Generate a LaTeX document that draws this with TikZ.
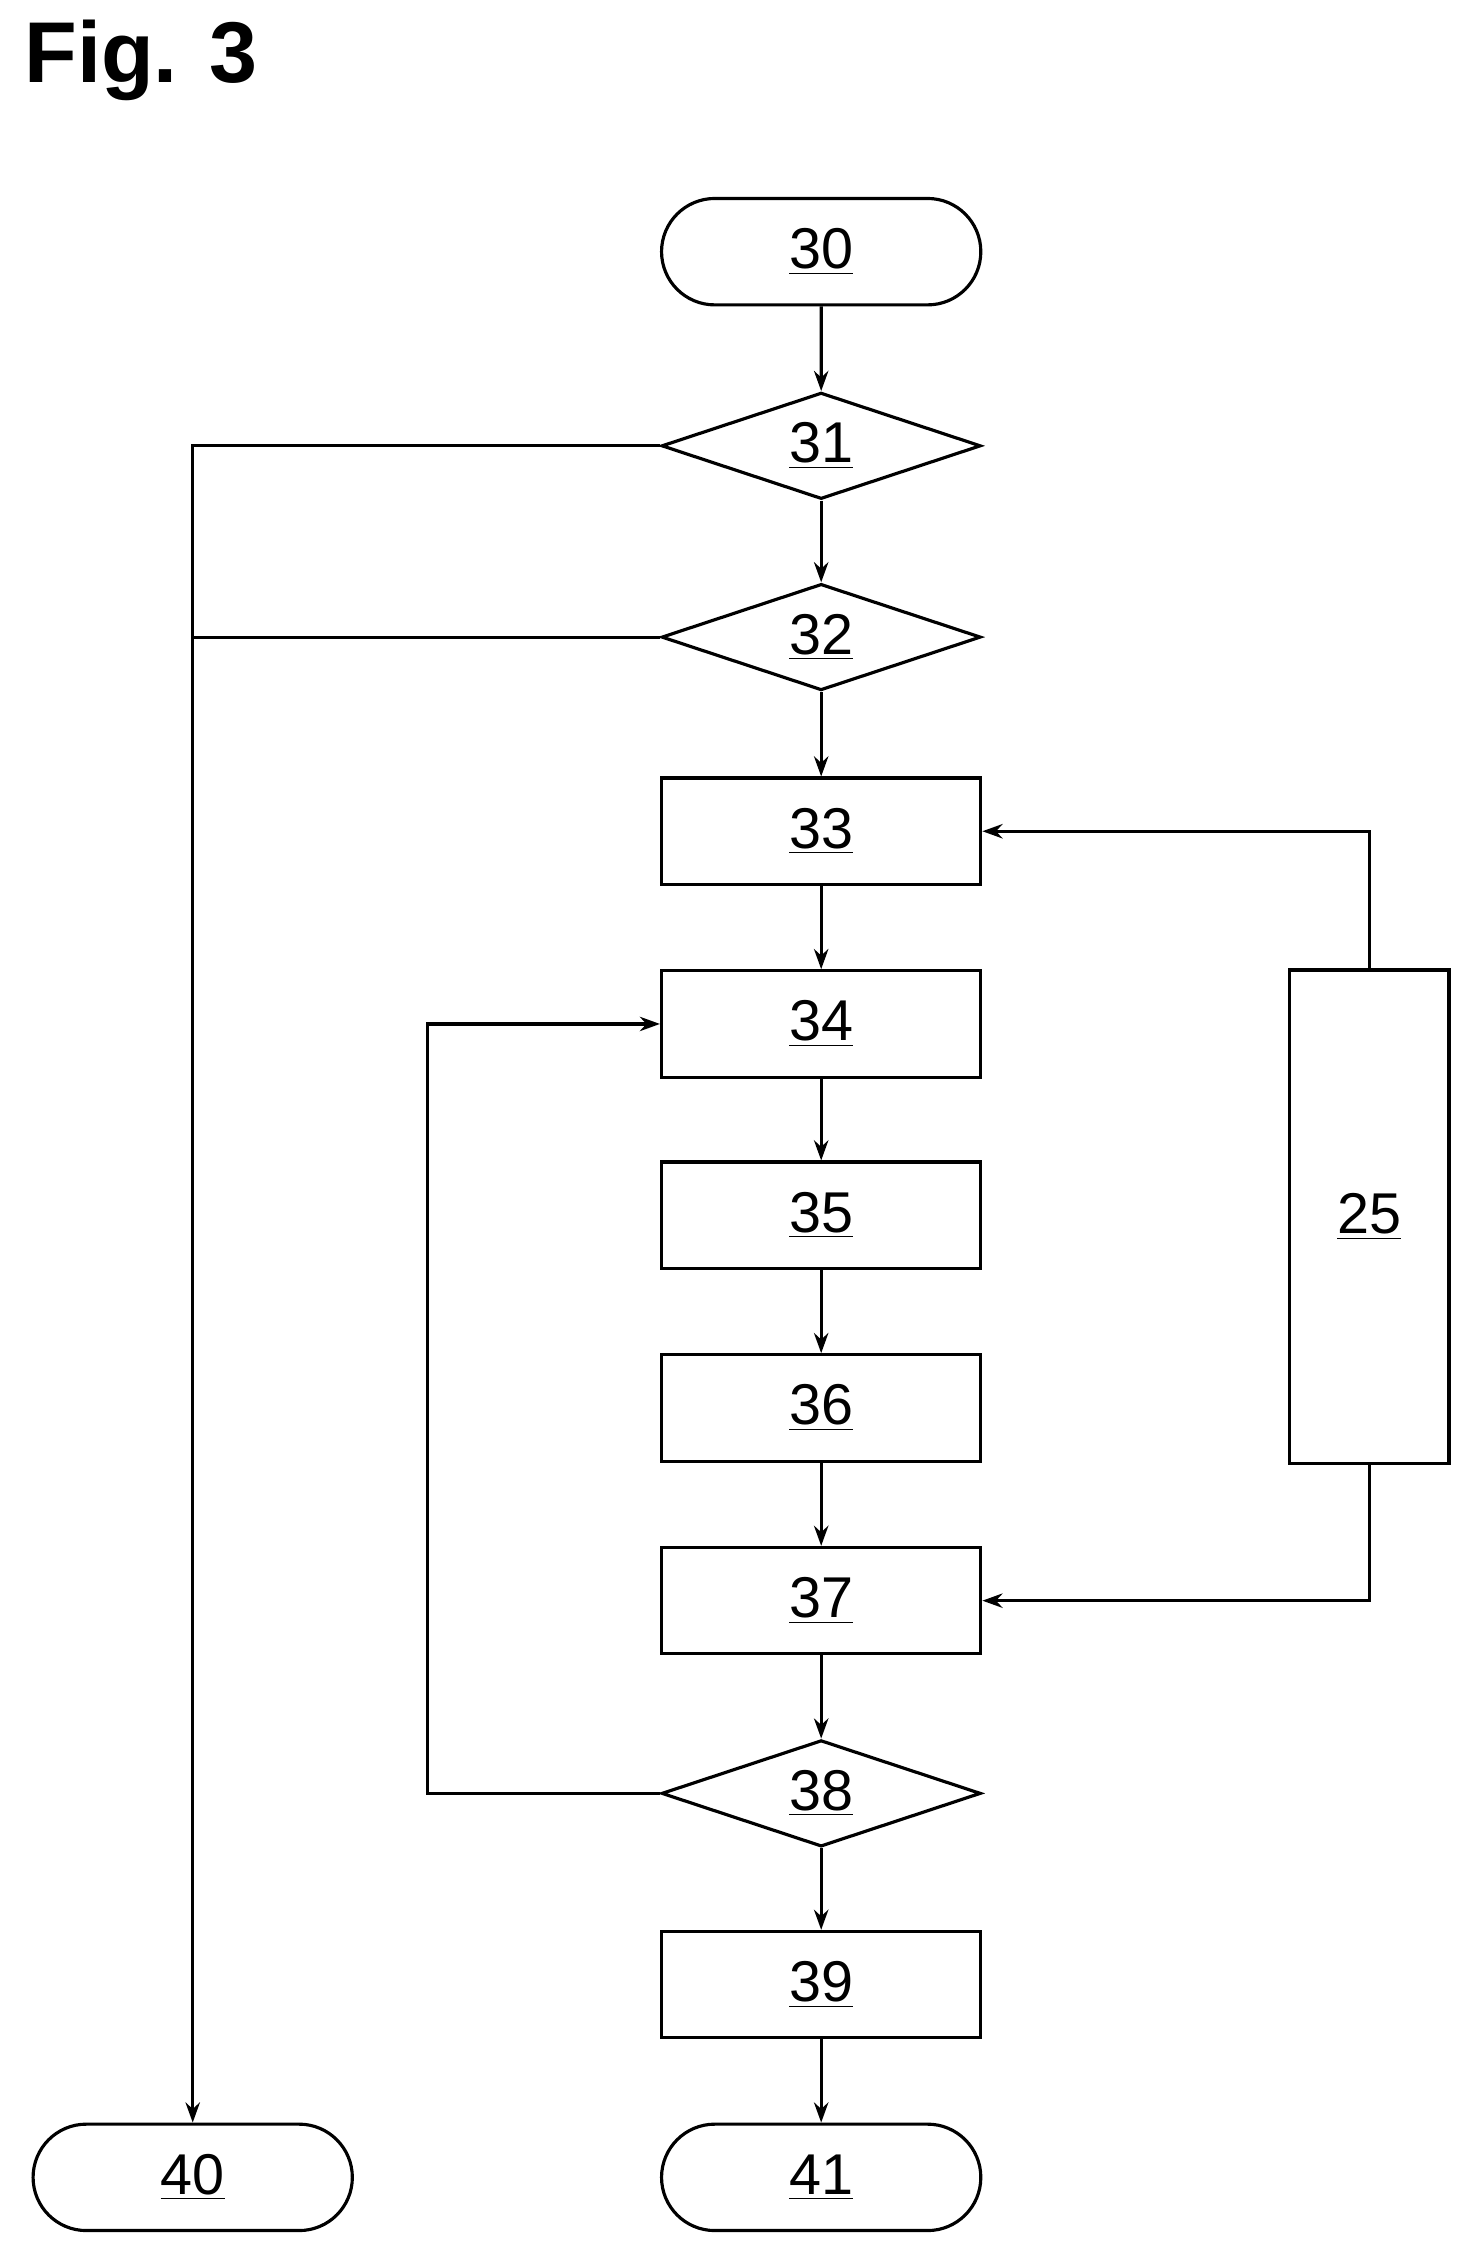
\documentclass[tikz,border=0pt]{standalone}
\usepackage{fontspec}
\setmainfont{Liberation Sans}
\usetikzlibrary{shapes.geometric,arrows.meta}
\begin{document}
\begin{tikzpicture}[x=0.5pt,y=-0.5pt,
  base/.style={draw,line width=1.1pt,inner sep=0pt,font=\fontsize{20}{24}\selectfont},
  box/.style={base,rectangle,minimum width=111pt,minimum height=37pt},
  term/.style={base,rounded rectangle,minimum width=111pt,minimum height=37pt},
  dia/.style={base,diamond,aspect=3,minimum width=111pt,minimum height=37pt},
  ar/.style={line width=1.1pt,-{Stealth[length=7pt,width=5pt]}},
  ln/.style={line width=1.1pt}]
\useasboundingbox (0,0) rectangle (1024,1568);
\usetikzlibrary{shapes.misc}
\node[font=\bfseries\fontsize{30}{34}\selectfont,anchor=west] (fig) at (10,42) {Fig. 3};
\node[term] (n30) at (571,175) {\underline{30}};
\node[dia] (n31) at (571,310) {\underline{31}};
\node[dia] (n32) at (571,443) {\underline{32}};
\node[box] (n33) at (571,578) {\underline{33}};
\node[box] (n34) at (571,712) {\underline{34}};
\node[box] (n35) at (571,845) {\underline{35}};
\node[box] (n36) at (571,979) {\underline{36}};
\node[box] (n37) at (571,1113) {\underline{37}};
\node[dia] (n38) at (571,1247) {\underline{38}};
\node[box] (n39) at (571,1380) {\underline{39}};
\node[term] (n41) at (571,1514) {\underline{41}};
\node[term] (n40) at (134,1514) {\underline{40}};
\node[box,minimum width=55.5pt,minimum height=171.5pt] (n25) at (952,846) {\underline{25}};
\draw[ar] (n30) -- (n31);
\draw[ar] (n31) -- (n32);
\draw[ar] (n32) -- (n33);
\draw[ar] (n33) -- (n34);
\draw[ar] (n34) -- (n35);
\draw[ar] (n35) -- (n36);
\draw[ar] (n36) -- (n37);
\draw[ar] (n37) -- (n38);
\draw[ar] (n38) -- (n39);
\draw[ar] (n39) -- (n41);
\coordinate (j1) at (134,310);
\coordinate (j2) at (134,443);
\draw[ln] (n31.west) -- (j1) -- (j2);
\draw[ln] (n32.west) -- (j2);
\draw[ar] (j2) -- (n40.north);
\draw[ar] (n38.west) -- (297,1247) -- (297,712) -- (n34.west);
\draw[ar] (n25.north) -- (952,578) -- (n33.east);
\draw[ar] (n25.south) -- (952,1113) -- (n37.east);
\end{tikzpicture}
\end{document}
